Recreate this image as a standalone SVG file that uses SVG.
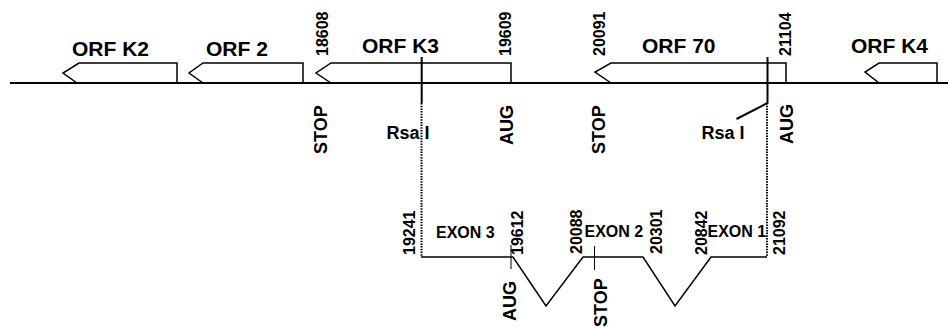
<svg xmlns="http://www.w3.org/2000/svg" width="948" height="328" viewBox="0 0 948 328">
<style>
text{font-family:"Liberation Sans",Arial,sans-serif;font-weight:bold;fill:#000}
.orf{font-size:21px}
.num{font-size:16px}
.lab{font-size:18px}
.ex{font-size:16px}
.box{fill:none;stroke:#000;stroke-width:1.5}
.ln{fill:none;stroke:#000;stroke-width:2}
.dot{fill:none;stroke:#000;stroke-width:2;stroke-dasharray:1.5 1.2}
.tick{fill:none;stroke:#000;stroke-width:1}
</style>
<rect width="948" height="328" fill="#fff"/>
<g id="connectors">
<line class="ln" x1="10" y1="83" x2="948" y2="83"/>
<line class="ln" x1="421.7" y1="57" x2="421.7" y2="103"/>
<line class="dot" x1="421.5" y1="103" x2="421.5" y2="257"/>
<polyline class="ln" points="767.5,57 767.5,103 736.5,119"/>
<line class="dot" x1="767" y1="103" x2="767" y2="257"/>
<polyline class="box" points="421,257 513,257 546,306 583,257 643,257 675,306 711,257 767,257"/>
<line class="tick" x1="511" y1="245" x2="511" y2="269"/>
<line class="tick" x1="594.5" y1="246" x2="594.5" y2="270"/>
</g>
<g id="orf-k2">
<polyline class="box" points="77,83 63,73 79,63 177,63 177,83"/>
<text class="orf" x="72" y="55.5">ORF K2</text>
</g>
<g id="orf-2">
<polyline class="box" points="203,83 189,73 203,63 303,63 303,83"/>
<text class="orf" x="206" y="55.5">ORF 2</text>
</g>
<g id="orf-k3">
<polyline class="box" points="331,83 316,73 331,63 511,63 511,83"/>
<text class="orf" x="362" y="52.5">ORF K3</text>
<text class="num" transform="translate(328,56) rotate(-90)">18608</text>
<text class="num" transform="translate(511,56) rotate(-90)">19609</text>
<text class="lab" transform="translate(327,154) rotate(-90)">STOP</text>
<text class="lab" transform="translate(513,145) rotate(-90)">AUG</text>
<text class="lab" x="386.5" y="139">Rsa I</text>
</g>
<g id="orf-70">
<polyline class="box" points="611,83 595,72 611,63 786,63 786,83"/>
<text class="orf" x="642" y="52.5">ORF 70</text>
<text class="num" transform="translate(605,56) rotate(-90)">20091</text>
<text class="num" transform="translate(791,56) rotate(-90)">21104</text>
<text class="lab" transform="translate(605,154) rotate(-90)">STOP</text>
<text class="lab" transform="translate(793,144) rotate(-90)">AUG</text>
<text class="lab" x="701.5" y="138.5">Rsa I</text>
</g>
<g id="orf-k4">
<polyline class="box" points="879,83 865,72 879,63 937,63 937,83"/>
<text class="orf" x="851" y="53">ORF K4</text>
</g>
<g id="exon-3">
<text class="ex" x="436" y="237.5">EXON 3</text>
<text class="num" transform="translate(415,255) rotate(-90)">19241</text>
<text class="num" transform="translate(523,255) rotate(-90)">19612</text>
<text class="lab" transform="translate(516,321) rotate(-90)">AUG</text>
</g>
<g id="exon-2">
<text class="ex" x="584.5" y="236.7">EXON 2</text>
<text class="num" transform="translate(582,254) rotate(-90)">20088</text>
<text class="num" transform="translate(662,254) rotate(-90)">20301</text>
<text class="lab" transform="translate(607,327) rotate(-90)">STOP</text>
</g>
<g id="exon-1">
<text class="ex" x="707.5" y="236.7">EXON 1</text>
<text class="num" transform="translate(707,255) rotate(-90)">20842</text>
<text class="num" transform="translate(785,255) rotate(-90)">21092</text>
</g>
</svg>
